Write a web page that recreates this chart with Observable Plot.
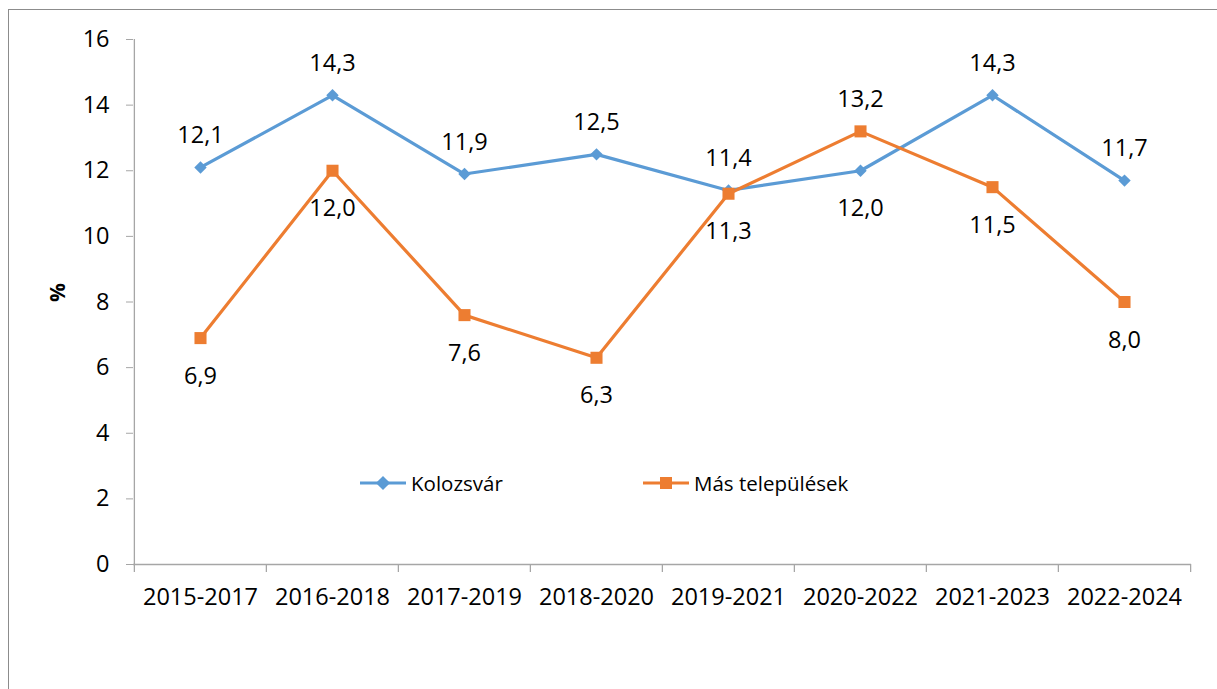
<!DOCTYPE html>
<html>
<head>
<meta charset="utf-8">
<script src="https://cdn.jsdelivr.net/npm/d3@7"></script>
<script src="https://cdn.jsdelivr.net/npm/@observablehq/plot@0.6"></script>
<style>
  html, body { margin: 0; padding: 0; background: #fff; overflow: hidden; }
  #wrap { position: relative; width: 1217px; height: 689px; font-family: "Open Sans", sans-serif; }
  #border { position: absolute; left: 8px; top: 9px; width: 1400px; height: 900px; border: 1px solid #8c8c8c; box-sizing: border-box; }
  #chart { position: absolute; left: 0; top: 0; }
  #chart svg [aria-label="y-axis tick"] { stroke: #a6a6a6; }
  #legend { position: absolute; left: 0; top: 0; width: 1217px; height: 689px; pointer-events: none; }
  .lg { position: absolute; display: flex; align-items: center; font-size: 20.5px; color: #000; white-space: nowrap; }
</style>
</head>
<body>
<div id="wrap">
  <div id="border"></div>
  <div id="chart"></div>
  <div id="legend"></div>
</div>
<script>
const categories = ["2015-2017","2016-2018","2017-2019","2018-2020","2019-2021","2020-2022","2021-2023","2022-2024"];
const kolozsvar = [12.1, 14.3, 11.9, 12.5, 11.4, 12.0, 14.3, 11.7];
const masTelepulesek = [6.9, 12.0, 7.6, 6.3, 11.3, 13.2, 11.5, 8.0];
const seriesNames = ["Kolozsvár", "Más települések"];
const seriesColors = ["#5b9bd5", "#ed7d31"];
const yTicks = [0, 2, 4, 6, 8, 10, 12, 14, 16];

const W = 1217, H = 689;
const mL = 133, mR = 26, mT = 39, mB = 125;
const step = (W - mL - mR) / categories.length;

const rows = [];
categories.forEach((c, i) => {
  rows.push({cat: c, series: seriesNames[0], value: kolozsvar[i], other: masTelepulesek[i]});
  rows.push({cat: c, series: seriesNames[1], value: masTelepulesek[i], other: kolozsvar[i]});
});
const fmt = v => d3.format(".1f")(v).replace(".", ",");
const gray = "#a6a6a6";
const font = "Open Sans, sans-serif";
const numSize = 23.5;

const plot = Plot.plot({
  width: W, height: H,
  marginLeft: mL, marginRight: mR, marginTop: mT, marginBottom: mB,
  style: {fontFamily: font, fontSize: numSize + "px", color: "#000", background: "transparent", overflow: "visible"},
  x: {type: "point", domain: categories, padding: 0.5, align: 0.5},
  y: {domain: [0, 16]},
  color: {domain: seriesNames, range: seriesColors},
  marks: [
    Plot.ruleY([0], {stroke: gray, strokeWidth: 1.3}),
    Plot.ruleX([categories[0]], {x: d => d, y1: 0, y2: 16, dx: -step / 2, stroke: gray, strokeWidth: 1.3}),
    Plot.ruleX(categories, {x: d => d, y1: 0, y2: 0, insetBottom: -8, dx: -step / 2, stroke: gray, strokeWidth: 1.3}),
    Plot.ruleX([categories[categories.length - 1]], {x: d => d, y1: 0, y2: 0, insetBottom: -8, dx: step / 2, stroke: gray, strokeWidth: 1.3}),
    Plot.axisY({ticks: yTicks, tickSize: 7, tickPadding: 17, tickFormat: d => String(d), fontSize: numSize, label: null}),
    Plot.axisX({tickSize: 0, tickPadding: 24, fontSize: numSize, label: null}),
    Plot.text(["%"], {frameAnchor: "left", dx: -75, rotate: -90, fontWeight: "bold", fontSize: 21}),
    Plot.lineY(rows, {x: "cat", y: "value", z: "series", stroke: "series", strokeWidth: 3.2}),
    Plot.dot(rows.filter(d => d.series === seriesNames[0]), {x: "cat", y: "value", symbol: "diamond2", r: 5.6, fill: seriesColors[0], stroke: null}),
    Plot.dot(rows.filter(d => d.series === seriesNames[1]), {x: "cat", y: "value", symbol: "square", r: 6.8, fill: seriesColors[1], stroke: null}),
    Plot.text(rows, {x: "cat", y: "value", text: d => fmt(d.value), fontSize: numSize, fill: "#000",
      filter: d => d.value >= d.other, dy: -32}),
    Plot.text(rows, {x: "cat", y: "value", text: d => fmt(d.value), fontSize: numSize, fill: "#000",
      filter: d => d.value < d.other, dy: 38})
  ]
});
document.getElementById("chart").appendChild(plot);

// Legend
const legend = document.getElementById("legend");
const legendPos = [{left: 360, top: 483}, {left: 643, top: 483}];
seriesNames.forEach((name, i) => {
  const div = document.createElement("div");
  div.className = "lg";
  div.style.left = legendPos[i].left + "px";
  div.style.top = (legendPos[i].top - 16) + "px";
  div.style.height = "32px";
  const marker = i === 0
    ? `<rect x="18" y="-5" width="10" height="10" transform="rotate(45 23 0)" fill="${seriesColors[i]}"/>`
    : `<rect x="17" y="-6" width="12" height="12" fill="${seriesColors[i]}"/>`;
  div.innerHTML = `<svg width="46" height="32" viewBox="0 -16 46 32" style="margin-right:5px"><line x1="0" x2="46" y1="0" y2="0" stroke="${seriesColors[i]}" stroke-width="3.2"/>${marker}</svg><span>${name}</span>`;
  legend.appendChild(div);
});
</script>
</body>
</html>
